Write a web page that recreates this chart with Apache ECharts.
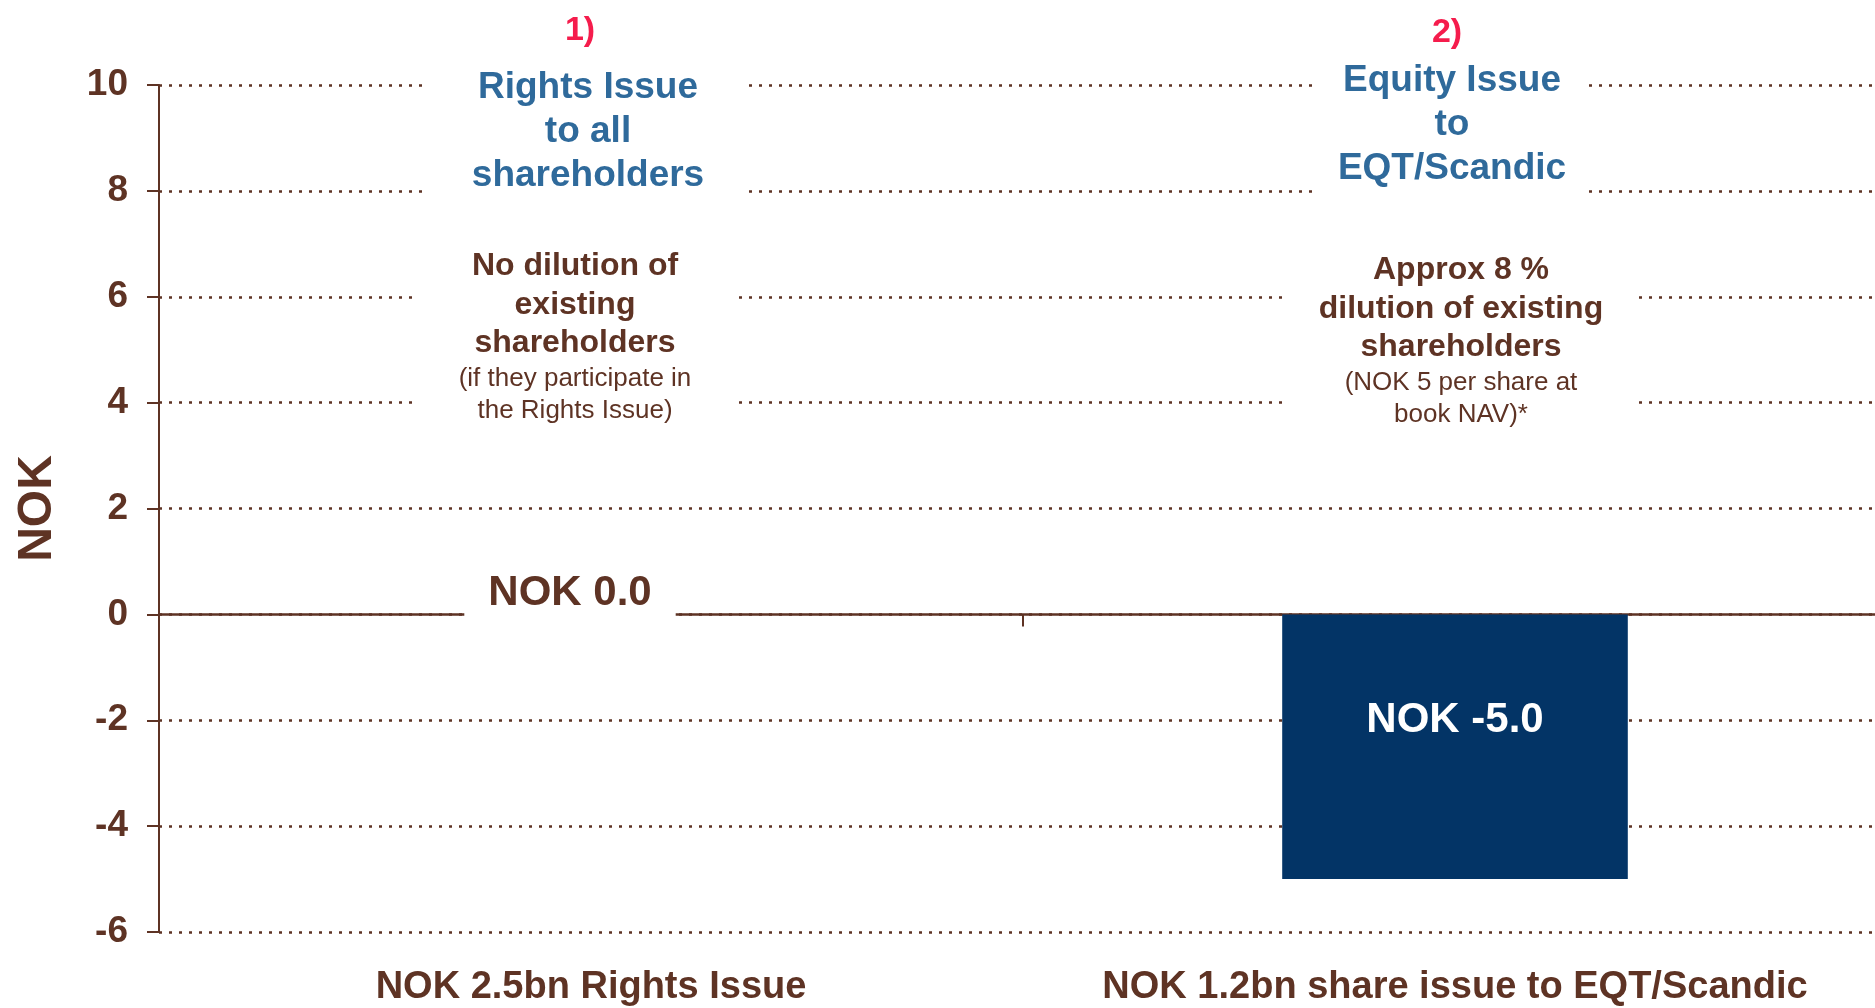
<!DOCTYPE html>
<html>
<head>
<meta charset="utf-8">
<script src="https://cdn.jsdelivr.net/npm/echarts@6/dist/echarts.min.js"></script>
<style>
  html, body, #main { width: 100%; height: 100%; margin: 0; background: #fff; }
</style>
</head>
<body>
<div id="main"></div>
<script>
// data
var categories = ['NOK 2.5bn Rights Issue', 'NOK 1.2bn share issue to EQT/Scandic'];
var values = [0.0, -5.0];
var yMin = -6, yMax = 10, yStep = 2;

// annotation texts, one per category
var steps = ['1)', '2)'];
var headlines = [
    ['Rights Issue', 'to all', 'shareholders'],
    ['Equity Issue', 'to', 'EQT/Scandic']
];
var effects = [
    ['No dilution of', 'existing', 'shareholders'],
    ['Approx 8 %', 'dilution of existing', 'shareholders']
];
var notes = [
    ['(if they participate in', 'the Rights Issue)'],
    ['(NOK 5 per share at', 'book NAV)*']
];

// where the annotations sit (value on the y axis, pixel nudge, white box size)
var layout = [
    { step: 11.02, stepDx: -11, head: 9.11, headDx: -3, headBox: [320, 130], body: 5.24, bodyDx: -16, bodyBox: [317, 180] },
    { step: 10.98, stepDx: -8,  head: 9.25, headDx: -3, headBox: [272, 140], body: 5.17, bodyDx: 6,   bodyBox: [347, 180] }
];

var BROWN = '#5e3324';
var BLUE = '#2f6a9b';
var NAVY = '#033466';
var RED = '#f51c4c';
var FONT = '"Liberation Sans", Arial, sans-serif';

var barLabels = [
    { position: 'inside', offset: [-21, -21], color: BROWN, backgroundColor: '#fff', padding: [6, 24, 6, 24] },
    { position: 'inside', offset: [0, -26], color: '#fff' }
];

var chart = echarts.init(document.getElementById('main'));

chart.setOption({
    animation: false,
    backgroundColor: '#fff',
    grid: { left: 159, right: -12, top: 85, bottom: 76, containLabel: false, outerBoundsMode: 'none' },
    xAxis: [
        {
            type: 'category',
            data: categories,
            position: 'bottom',
            axisLine: { show: false, onZero: false },
            axisTick: { show: false },
            axisLabel: { interval: 0, hideOverlap: false, color: BROWN, fontSize: 38, fontWeight: 'bold', fontFamily: FONT, margin: 37 }
        },
        {
            type: 'category',
            data: categories,
            position: 'bottom',
            axisLine: { show: true, onZero: true, lineStyle: { color: BROWN, width: 2.5 } },
            axisTick: { show: true, length: 12, lineStyle: { color: BROWN, width: 2 } },
            axisLabel: { show: false }
        }
    ],
    yAxis: {
        type: 'value',
        min: yMin,
        max: yMax,
        interval: yStep,
        name: 'NOK',
        nameLocation: 'middle',
        nameRotate: 90,
        nameGap: 97,
        nameMoveOverlap: false,
        nameTextStyle: { color: BROWN, fontSize: 48, fontWeight: 'bold', fontFamily: FONT },
        axisLine: { show: true, lineStyle: { color: BROWN, width: 2 } },
        axisTick: { show: true, length: 12, lineStyle: { color: BROWN, width: 2 } },
        axisLabel: { color: BROWN, fontSize: 37, fontWeight: 'bold', fontFamily: FONT, margin: 31 },
        splitLine: { show: true, lineStyle: { color: BROWN, width: 2.5, type: [3, 7] } }
    },
    series: [{
        type: 'bar',
        xAxisIndex: 0,
        barWidth: '40%',
        itemStyle: { color: NAVY },
        label: {
            show: true,
            fontSize: 42,
            fontWeight: 'bold',
            fontFamily: FONT,
            formatter: function (p) { return 'NOK ' + p.value.toFixed(1); }
        },
        data: values.map(function (v, i) {
            return { value: v, label: barLabels[i] };
        })
    }]
});

// annotations are anchored to the category centre and a y value
function box(cx, cy, size) {
    return {
        type: 'rect', z: 50,
        shape: { x: cx - size[0] / 2, y: cy - size[1] / 2, width: size[0], height: size[1] },
        style: { fill: '#fff' }
    };
}

var graphics = [];
layout.forEach(function (L, i) {
    var p1 = chart.convertToPixel({ xAxisIndex: 0, yAxisIndex: 0 }, [i, L.step]);
    var p2 = chart.convertToPixel({ xAxisIndex: 0, yAxisIndex: 0 }, [i, L.head]);
    var p3 = chart.convertToPixel({ xAxisIndex: 0, yAxisIndex: 0 }, [i, L.body]);

    graphics.push({
        type: 'text', z: 51, x: p1[0] + L.stepDx, y: p1[1],
        style: { text: steps[i], fill: RED, font: 'bold 34px ' + FONT, align: 'center', verticalAlign: 'middle' }
    });

    graphics.push(box(p2[0] + L.headDx, p2[1], L.headBox));
    graphics.push({
        type: 'text', z: 51, x: p2[0] + L.headDx, y: p2[1],
        style: {
            text: headlines[i].join('\n'), fill: BLUE, font: 'bold 37px ' + FONT,
            lineHeight: 44, align: 'center', verticalAlign: 'middle'
        }
    });

    var rich = effects[i].map(function (t) { return '{b|' + t + '}'; })
        .concat(notes[i].map(function (t) { return '{s|' + t + '}'; }));
    graphics.push(box(p3[0] + L.bodyDx, p3[1], L.bodyBox));
    graphics.push({
        type: 'text', z: 51, x: p3[0] + L.bodyDx, y: p3[1],
        style: {
            text: rich.join('\n'), align: 'center', verticalAlign: 'middle',
            rich: {
                b: { fill: BROWN, fontSize: 32, fontWeight: 'bold', fontFamily: FONT, lineHeight: 38.5, align: 'center' },
                s: { fill: BROWN, fontSize: 26, fontFamily: FONT, lineHeight: 32, align: 'center' }
            }
        }
    });
});

chart.setOption({ graphic: graphics });
</script>
</body>
</html>
